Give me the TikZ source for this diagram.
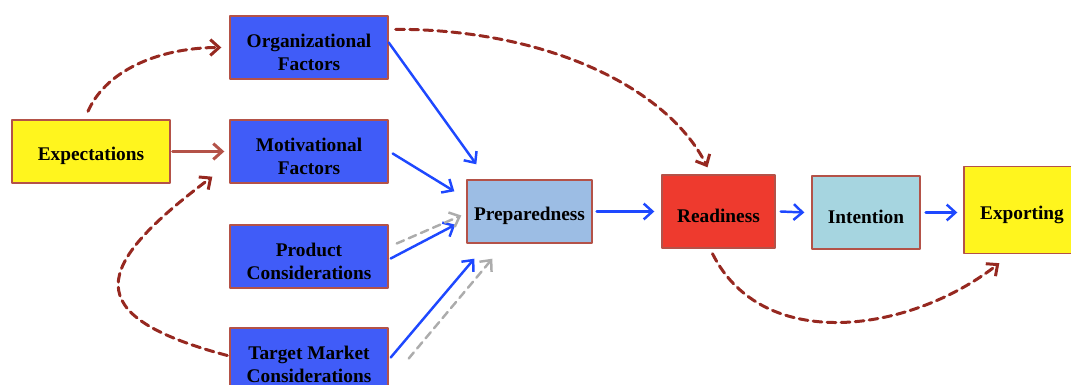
\documentclass[tikz,border=0pt]{standalone}
\usepackage{fontspec}
\setmainfont{Liberation Serif}
\usetikzlibrary{arrows.meta}
\definecolor{boxline}{RGB}{180,82,72}
\definecolor{boxblue}{RGB}{64,92,248}
\definecolor{boxyellow}{RGB}{255,245,30}
\definecolor{prepblue}{RGB}{156,189,228}
\definecolor{readyred}{RGB}{238,58,46}
\definecolor{intcyan}{RGB}{166,213,224}
\definecolor{flowblue}{RGB}{30,72,255}
\definecolor{linkred}{RGB}{150,40,32}
\definecolor{linkbrown}{RGB}{180,82,72}
\definecolor{linkgray}{RGB}{172,172,172}
\begin{document}
\begin{tikzpicture}[x=0.02cm, y=-0.02cm, line cap=round, line join=round,
    font=\bfseries\fontsize{11}{13}\selectfont, >={Straight Barb[length=5pt,width=9pt]}]
  \tikzset{box/.style={draw=boxline, line width=0.8pt, align=center, inner sep=2pt,
      minimum width=3.16cm, minimum height=1.26cm, execute at begin node={\rule{0pt}{#1}}},
    box/.default=13pt,
    flow/.style={->, draw=flowblue, line width=1.4pt},
    link/.style={->, draw=linkred, line width=1.7pt, dash pattern=on 5pt off 3pt},
    hint/.style={->, draw=linkgray, line width=1.4pt, dash pattern=on 4.5pt off 3pt}}
  \useasboundingbox (0,0) rectangle (1071,385);
  % factors
  \node[box, fill=boxyellow] (expect) at (91,151.5) {Expectations};
  \node[box=26pt, fill=boxblue] (org) at (309,47.5) {Organizational\\Factors};
  \node[box=26pt, fill=boxblue] (motiv) at (309,151.5) {Motivational\\Factors};
  \node[box=26pt, fill=boxblue] (prod) at (309,256.5) {Product\\Considerations};
  \node[box=26pt, fill=boxblue] (target) at (309,359.5) {Target Market\\Considerations};
  % stages
  \node[box, fill=prepblue, minimum width=2.5cm] (prep) at (529.5,211.5) {Preparedness};
  \node[box, fill=readyred, minimum width=2.26cm, minimum height=1.46cm] (ready) at (718.5,211.5) {Readiness};
  \node[box, fill=intcyan, minimum width=2.16cm, minimum height=1.46cm] (intent) at (866,212.5) {Intention};
  \node[box, fill=boxyellow, minimum width=2.32cm, minimum height=1.74cm] (export) at (1022,210) {Exporting};
  % solid arrows
  \draw[->, draw=linkbrown, line width=1.7pt] ([shift={(2,0)}]expect.east) -- ([shift={(-5,0)}]motiv.west);
  \draw[flow] ([shift={(0,-5)}]org.east) -- ([shift={(10,-15)}]prep.north west);
  \draw[flow] ([shift={(4,2)}]motiv.east) -- ([shift={(-12,12)}]prep.north west);
  \draw[flow] ([shift={(2,2)}]prod.east) -- ([shift={(-11,-19)}]prep.south west);
  \draw[flow] ([shift={(2,-2)}]target.east) -- ([shift={(8,15)}]prep.south west);
  \draw[flow] ([shift={(4,0)}]prep.east) -- ([shift={(-7,0)}]ready.west);
  \draw[flow] ([shift={(5,0)}]ready.east) -- ([shift={(-7,0)}]intent.west);
  \draw[flow] ([shift={(5,0)}]intent.east) -- ([shift={(-6,0)}]intent.east -| export.west);
  % gray dashed
  \draw[hint] ([shift={(8,-13)}]prod.east) -- ([shift={(-5,4)}]prep.west);
  \draw[hint] ([shift={(20,-1)}]target.east) -- ([shift={(26,15)}]prep.south west);
  % dashed links
  \draw[link] ([shift={(-3,-8)}]expect.north) .. controls +(20,-45) and +(-55,0) .. ([shift={(-8,0)}]org.west);
  \draw[link] ([shift={(-2,-4)}]target.west) .. controls +(-150,-40) and +(-120,90) .. ([shift={(-17,-7)}]motiv.south west);
  \draw[link] ([shift={(7,14)}]org.north east) .. controls +(150,0) and +(-40,-80) .. ([shift={(-11,-7)}]ready.north);
  \draw[link] ([shift={(-6,5)}]ready.south) .. controls +(50,100) and +(-90,70) .. ([shift={(36,9)}]export.south west);
\end{tikzpicture}
\end{document}
